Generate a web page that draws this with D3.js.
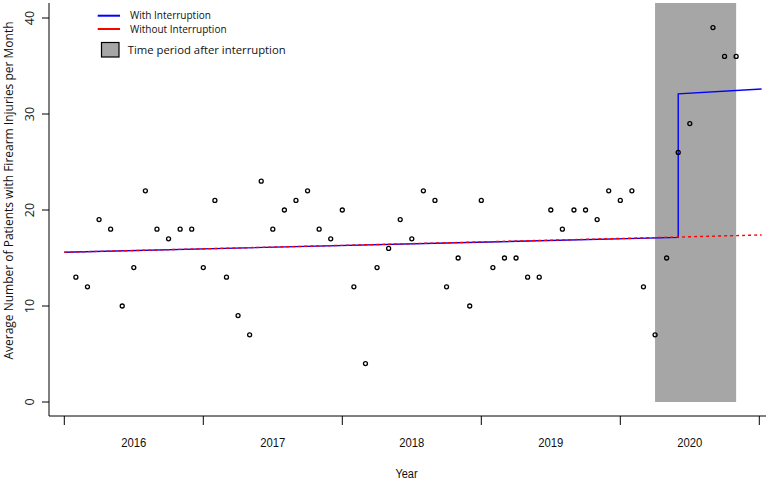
<!DOCTYPE html>
<html>
<head>
<meta charset="utf-8">
<script src="https://cdn.jsdelivr.net/npm/d3@7"></script>
<style>
  html, body { margin: 0; padding: 0; background: #fff; }
  svg { display: block; }
</style>
</head>
<body>
<svg id="chart" width="766" height="482"></svg>
<script>
// ---- data ----
const monthIndex = [1,2,3,4,5,6,7,8,9,10,11,12,
  13,14,15,16,17,18,19,20,21,22,23,24,
  25,26,27,28,29,30,31,32,33,34,35,36,
  37,38,39,40,41,42,43,44,45,46,47,48,
  49,50,51,52,53,54,56,57,58];
const observed = [13,12,19,18,10,14,22,18,17,18,18,14,
  21,13,9,7,23,18,20,21,22,18,17,20,
  12,4,14,16,19,17,22,21,12,15,10,21,
  14,15,15,13,13,20,18,20,20,19,22,21,
  22,12,7,15,26,29,39,36,36];
const withIdx = [0, 53, 53, 60.2];
const withVal = [15.6, 17.15, 32.1, 32.6];
const withoutIdx = [0, 60.2];
const withoutVal = [15.6, 17.4];
const periodStart = 51, periodEnd = 58;
const yearTicks = [0, 12, 24, 36, 48, 60];
const yearLabels = ["2016", "2017", "2018", "2019", "2020"];
const yTicks = [0, 10, 20, 30, 40];

// ---- layout ----
const svg = d3.select("#chart");
const x = d3.scaleLinear().domain([0, 60]).range([64.3, 759.3]);
const y = d3.scaleLinear().domain([0, 40]).range([402, 18]);
const axisX = 49, axisY = 416;

// shaded period
svg.append("rect")
  .attr("x", x(periodStart)).attr("y", 3)
  .attr("width", x(periodEnd) - x(periodStart))
  .attr("height", y(0) - 3)
  .attr("fill", "#a6a6a6");

// axes lines
svg.append("line").attr("x1", axisX).attr("x2", axisX).attr("y1", 3).attr("y2", axisY)
  .attr("stroke", "#000").attr("stroke-width", 1);
svg.append("line").attr("x1", axisX).attr("x2", 766).attr("y1", axisY).attr("y2", axisY)
  .attr("stroke", "#000").attr("stroke-width", 1);

// y ticks
const yg = svg.append("g");
yTicks.forEach(t => {
  yg.append("line").attr("x1", axisX - 7).attr("x2", axisX)
    .attr("y1", y(t)).attr("y2", y(t)).attr("stroke", "#000");
  yg.append("text")
    .attr("transform", `translate(34,${y(t)}) rotate(-90)`)
    .attr("text-anchor", "middle")
    .attr("font-family", "Open Sans, sans-serif").attr("font-size", 12.5)
    .attr("fill", "#222")
    .text(t);
});

// x ticks
const xg = svg.append("g");
yearTicks.forEach(t => {
  xg.append("line").attr("x1", x(t)).attr("x2", x(t))
    .attr("y1", axisY).attr("y2", axisY + 9).attr("stroke", "#000");
});
yearLabels.forEach((lab, k) => {
  xg.append("text")
    .attr("transform", `translate(${(x(yearTicks[k]) + x(yearTicks[k + 1])) / 2},446.5) scale(1,1.15)`)
    .attr("text-anchor", "middle")
    .attr("font-family", "Liberation Sans, Arial, sans-serif").attr("font-size", 11.3)
    .attr("fill", "#111")
    .text(lab);
});

// axis titles
svg.append("text").attr("transform", "translate(406.5,477.5) scale(1,1.15)").attr("text-anchor", "middle")
  .attr("font-family", "Liberation Sans, Arial, sans-serif").attr("font-size", 11)
  .attr("fill", "#111").text("Year");
svg.append("text")
  .attr("transform", "translate(12.5,190.5) rotate(-90)")
  .attr("text-anchor", "middle")
  .attr("font-family", "Open Sans, sans-serif").attr("font-size", 12)
  .attr("fill", "#111")
  .text("Average Number of Patients with Firearm Injuries per Month");

// fitted lines
const line = d3.line().x(d => x(d[0])).y(d => y(d[1]));
svg.append("path").attr("d", line(d3.zip(withIdx, withVal)))
  .attr("fill", "none").attr("stroke", "#0000ff").attr("stroke-width", 1.4);
svg.append("path").attr("d", line(d3.zip(withoutIdx, withoutVal)))
  .attr("fill", "none").attr("stroke", "#ff0000").attr("stroke-width", 1.4)
  .attr("stroke-dasharray", "3,3");

// points
svg.append("g").selectAll("circle").data(d3.zip(monthIndex, observed)).join("circle")
  .attr("cx", d => x(d[0])).attr("cy", d => y(d[1])).attr("r", 2)
  .attr("fill", "none").attr("stroke", "#000").attr("stroke-width", 1.3);

// legend
const lg = svg.append("g");
const legFont = "Open Sans, sans-serif";
lg.append("line").attr("x1", 97.7).attr("x2", 120).attr("y1", 15.7).attr("y2", 15.7)
  .attr("stroke", "#0000ff").attr("stroke-width", 2);
lg.append("text").attr("x", 130).attr("y", 19.2).attr("font-family", legFont)
  .attr("font-size", 10).attr("fill", "#111").text("With Interruption");
lg.append("line").attr("x1", 97.7).attr("x2", 120).attr("y1", 29).attr("y2", 29)
  .attr("stroke", "#ff0000").attr("stroke-width", 2);
lg.append("text").attr("x", 130).attr("y", 32.5).attr("font-family", legFont)
  .attr("font-size", 10).attr("fill", "#111").text("Without Interruption");
lg.append("rect").attr("x", 101.5).attr("y", 42.5).attr("width", 17.5).attr("height", 14.5)
  .attr("fill", "#a6a6a6").attr("stroke", "#000").attr("stroke-width", 1.2);
lg.append("text").attr("x", 127.7).attr("y", 54).attr("font-family", legFont)
  .attr("font-size", 11.3).attr("fill", "#111").text("Time period after interruption");
</script>
</body>
</html>
